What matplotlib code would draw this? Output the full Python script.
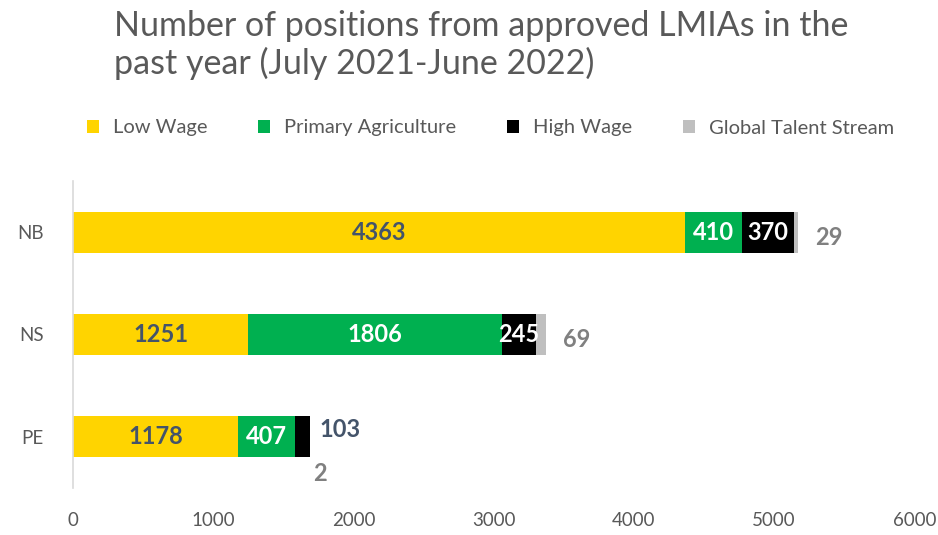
import matplotlib.pyplot as plt
import numpy as np

plt.rcParams["font.family"] = ["Lato", "DejaVu Sans"]

provinces = ["NB", "NS", "PE"]
series = ["Low Wage", "Primary Agriculture", "High Wage", "Global Talent Stream"]
low_wage = [4363, 1251, 1178]
primary_ag = [410, 1806, 407]
high_wage = [370, 245, 103]
global_talent = [29, 69, 2]
colors = ["#FFD400", "#00B050", "#000000", "#BFBFBF"]
xticks = [0, 1000, 2000, 3000, 4000, 5000, 6000]

fig = plt.figure(figsize=(9.38, 5.35), dpi=100)
ax = fig.add_axes([0.0778, 1 - 488 / 535, 0.897, 307 / 535])

y = np.arange(len(provinces))
left = np.zeros(len(provinces))
data = [low_wage, primary_ag, high_wage, global_talent]
bars = []
for name, vals, col in zip(series, data, colors):
    b = ax.barh(y, vals, left=left, height=0.40, color=col, label=name)
    bars.append(b)
    left = left + np.array(vals)

# value labels inside the segments
label_colors = ["#44546A", "white", "white"]
for i in range(len(provinces)):
    x0 = 0
    for s in range(3):
        v = data[s][i]
        if not (i == 2 and s == 2):
            ax.text(x0 + v / 2, y[i], f"{v}", ha="center", va="center", fontsize=17,
                    fontweight="bold", color=label_colors[s])
        x0 += v
    total = x0 + global_talent[i]
    if i < 2:
        ax.text(total + 120, y[i] + 0.05, f"{global_talent[i]}", ha="left", va="center",
                fontsize=17, fontweight="bold", color="#808080")
    else:
        ax.text(total + 70, y[i] - 0.07, f"{high_wage[i]}", ha="left", va="center",
                fontsize=17, fontweight="bold", color="#44546A")
        ax.text(total + 20, y[i] + 0.36, f"{global_talent[i]}", ha="left", va="center",
                fontsize=17, fontweight="bold", color="#808080")

ax.set_xlim(0, 6000)
ax.set_ylim(2.5, -0.5)
ax.set_yticks(y)
ax.set_yticklabels(provinces)
ax.set_xticks(xticks)
ax.tick_params(length=0, labelsize=13.5, labelcolor="#595959")
ax.tick_params(axis="x", pad=17)
ax.tick_params(axis="y", pad=21)
for sp in ["top", "right", "bottom"]:
    ax.spines[sp].set_visible(False)
ax.spines["left"].set_color("#D9D9D9")
ax.spines["left"].set_linewidth(1.2)

fig.text(0.122, 0.982, "Number of positions from approved LMIAs in the\npast year (July 2021-June 2022)",
         ha="left", va="top", fontsize=24.5, color="#595959", linespacing=1.18)

fig.legend(handles=bars, loc="center", bbox_to_anchor=(0.523, 1 - 128 / 535), ncol=4,
           frameon=False, fontsize=14.5, labelcolor="#595959", handlelength=0.6,
           handleheight=0.6, columnspacing=2.5, handletextpad=0.7)

fig.savefig("out.png", dpi=100)
